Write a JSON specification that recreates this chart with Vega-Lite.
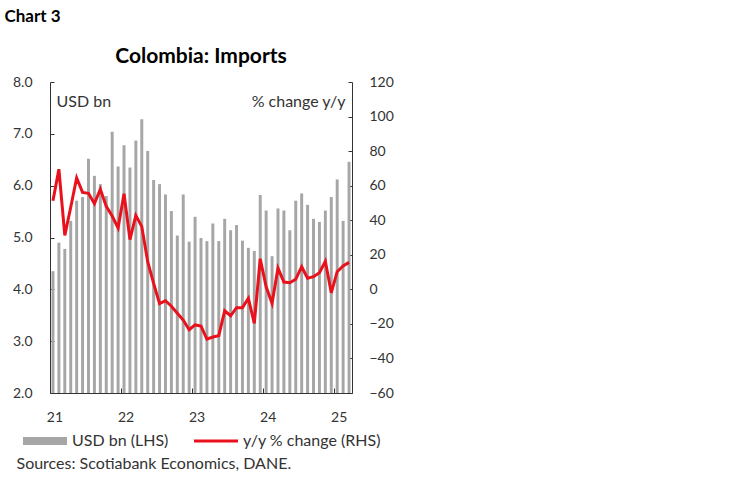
{
  "$schema": "https://vega.github.io/schema/vega-lite/v6.json",
  "background": "white",
  "padding": {"left": 4, "top": 8, "right": 5, "bottom": 5},
  "config": {
    "font": "Lato",
    "view": {"stroke": null},
    "axis": {
      "grid": false,
      "labelFont": "Lato",
      "labelFontSize": 14,
      "labelColor": "#333333",
      "domainColor": "#333333",
      "tickColor": "#333333",
      "tickSize": -4,
      "titleFont": "Lato",
      "titleFontSize": 16,
      "titleFontWeight": "normal",
      "titleColor": "#333333"
    },
    "legend": {"labelFont": "Lato", "labelFontSize": 16, "labelColor": "#333333"}
  },
  "title": {
    "text": "Chart 3",
    "anchor": "start",
    "fontSize": 17,
    "fontWeight": "bold",
    "color": "#000000",
    "dx": -8,
    "offset": 20
  },
  "datasets": {
    "imports": [
      {"month": "2021-01", "usd": 4.35, "yoy": 51.3},
      {"month": "2021-02", "usd": 4.90, "yoy": 69.5},
      {"month": "2021-03", "usd": 4.78, "yoy": 31.2},
      {"month": "2021-04", "usd": 5.32, "yoy": 47.5},
      {"month": "2021-05", "usd": 5.71, "yoy": 64.5},
      {"month": "2021-06", "usd": 5.78, "yoy": 56.1},
      {"month": "2021-07", "usd": 6.52, "yoy": 55.6},
      {"month": "2021-08", "usd": 6.19, "yoy": 49.6},
      {"month": "2021-09", "usd": 6.03, "yoy": 57.9},
      {"month": "2021-10", "usd": 5.80, "yoy": 48.0},
      {"month": "2021-11", "usd": 7.04, "yoy": 42.4},
      {"month": "2021-12", "usd": 6.37, "yoy": 35.5},
      {"month": "2022-01", "usd": 6.78, "yoy": 55.3},
      {"month": "2022-02", "usd": 6.35, "yoy": 28.8},
      {"month": "2022-03", "usd": 6.87, "yoy": 42.8},
      {"month": "2022-04", "usd": 7.28, "yoy": 36.3},
      {"month": "2022-05", "usd": 6.67, "yoy": 16.0},
      {"month": "2022-06", "usd": 6.11, "yoy": 3.5},
      {"month": "2022-07", "usd": 6.03, "yoy": -8.3},
      {"month": "2022-08", "usd": 5.83, "yoy": -6.6},
      {"month": "2022-09", "usd": 5.51, "yoy": -9.8},
      {"month": "2022-10", "usd": 5.04, "yoy": -13.8},
      {"month": "2022-11", "usd": 5.83, "yoy": -17.8},
      {"month": "2022-12", "usd": 4.92, "yoy": -23.4},
      {"month": "2023-01", "usd": 5.40, "yoy": -20.6},
      {"month": "2023-02", "usd": 4.99, "yoy": -21.3},
      {"month": "2023-03", "usd": 4.93, "yoy": -28.8},
      {"month": "2023-04", "usd": 5.27, "yoy": -27.6},
      {"month": "2023-05", "usd": 4.93, "yoy": -26.8},
      {"month": "2023-06", "usd": 5.36, "yoy": -12.4},
      {"month": "2023-07", "usd": 5.14, "yoy": -15.3},
      {"month": "2023-08", "usd": 5.24, "yoy": -10.6},
      {"month": "2023-09", "usd": 4.94, "yoy": -10.6},
      {"month": "2023-10", "usd": 4.80, "yoy": -5.2},
      {"month": "2023-11", "usd": 4.74, "yoy": -19.7},
      {"month": "2023-12", "usd": 5.82, "yoy": 17.7},
      {"month": "2024-01", "usd": 5.52, "yoy": 1.5},
      {"month": "2024-02", "usd": 4.64, "yoy": -8.1},
      {"month": "2024-03", "usd": 5.56, "yoy": 12.3},
      {"month": "2024-04", "usd": 5.52, "yoy": 4.2},
      {"month": "2024-05", "usd": 5.14, "yoy": 3.8},
      {"month": "2024-06", "usd": 5.71, "yoy": 5.8},
      {"month": "2024-07", "usd": 5.85, "yoy": 13.1},
      {"month": "2024-08", "usd": 5.63, "yoy": 6.4},
      {"month": "2024-09", "usd": 5.36, "yoy": 7.3},
      {"month": "2024-10", "usd": 5.30, "yoy": 9.6},
      {"month": "2024-11", "usd": 5.52, "yoy": 16.2},
      {"month": "2024-12", "usd": 5.78, "yoy": -2.0},
      {"month": "2025-01", "usd": 6.12, "yoy": 10.2},
      {"month": "2025-02", "usd": 5.32, "yoy": 13.5},
      {"month": "2025-03", "usd": 6.46, "yoy": 15.6}
    ]
  },
  "vconcat": [
    {
      "width": 302,
      "height": 311,
      "title": {
        "text": "Colombia: Imports",
        "anchor": "middle",
        "frame": "group",
        "fontSize": 21,
        "fontWeight": "bold",
        "color": "#000000",
        "offset": 8
      },
      "data": {"name": "imports"},
      "encoding": {
        "x": {
          "field": "month",
          "type": "ordinal",
          "sort": null,
          "scale": {"paddingInner": 0.5, "paddingOuter": 0.25},
          "axis": {
            "values": ["2021-01", "2022-01", "2023-01", "2024-01", "2025-01"],
            "labelExpr": "substring(datum.value, 2, 4)",
            "labelAngle": 0,
            "bandPosition": 0,
            "tickExtra": false,
            "tickOffset": -1.5,
            "labelOffset": 3,
            "tickSize": -5,
            "labelPadding": 22,
            "title": "Sources: Scotiabank Economics, DANE.",
            "titleX": -34,
            "titleY": 70,
            "titleAlign": "left",
            "titleBaseline": "middle",
            "titleFontSize": 16
          }
        }
      },
      "layer": [
        {
          "mark": {"type": "bar"},
          "encoding": {
            "y": {
              "field": "usd",
              "type": "quantitative",
              "scale": {"domain": [2, 8], "zero": false},
              "axis": {
                "orient": "left",
                "values": [2, 3, 4, 5, 6, 7, 8],
                "format": ".1f",
                "labelPadding": 22,
                "title": "USD bn",
                "titleAngle": 0,
                "titleX": 6,
                "titleY": 19,
                "titleAlign": "left",
                "titleBaseline": "middle"
              }
            },
            "y2": {"datum": 2},
            "color": {
              "datum": "USD bn (LHS)",
              "type": "nominal",
              "scale": {
                "domain": ["USD bn (LHS)", "y/y % change (RHS)"],
                "range": ["#a6a6a6", "#e8111c"]
              },
              "legend": {
                "orient": "none",
                "legendX": -27,
                "legendY": 337,
                "direction": "horizontal",
                "title": null,
                "symbolSize": 1936,
                "labelOffset": 5,
                "columnPadding": 25,
                "encode": {
                  "symbols": {
                    "update": {
                      "shape": {"signal": "datum.value === 'USD bn (LHS)' ? 'M-1,-0.18H1V0.18H-1Z' : 'M-1,-0.07H1V0.07H-1Z'"},
                      "fill": {"scale": "color", "field": "value"},
                      "stroke": {"value": "transparent"},
                      "strokeWidth": {"value": 0},
                      "opacity": {"value": 1}
                    }
                  }
                }
              }
            }
          }
        },
        {
          "mark": {"type": "line", "strokeWidth": 3},
          "encoding": {
            "y": {
              "field": "yoy",
              "type": "quantitative",
              "scale": {"domain": [-60, 120]},
              "axis": {
                "orient": "right",
                "values": [-60, -40, -20, 0, 20, 40, 60, 80, 100, 120],
                "labelPadding": 21,
                "title": "% change y/y",
                "titleAngle": 0,
                "titleX": -7,
                "titleY": 19,
                "titleAlign": "right",
                "titleBaseline": "middle"
              }
            },
            "color": {"datum": "y/y % change (RHS)", "type": "nominal"}
          }
        }
      ],
      "resolve": {"scale": {"y": "independent"}}
    }
  ]
}
